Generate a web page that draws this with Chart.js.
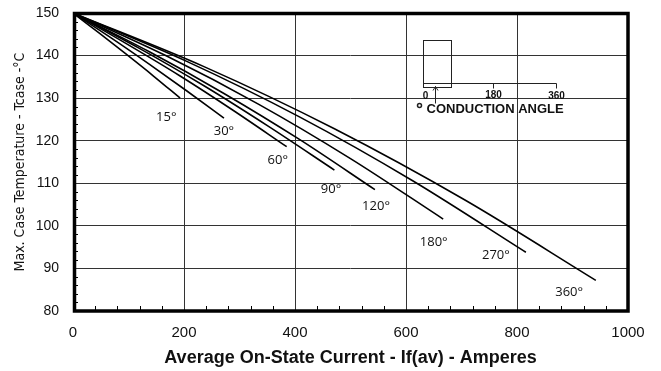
<!DOCTYPE html>
<html>
<head>
<meta charset="utf-8">
<script src="https://cdn.jsdelivr.net/npm/chart.js@4.4.1/dist/chart.umd.min.js"></script>
<style>
  html, body { margin: 0; padding: 0; background: #fff; }
  #wrap { width: 661px; height: 371px; }
</style>
</head>
<body>
<div id="wrap"><canvas id="chart" width="661" height="371"></canvas></div>
<script>
// conduction angle curves: case temperature vs average current
var angles = ['15°', '30°', '60°', '90°', '120°', '180°', '270°', '360°'];
var currents = [
    [0, 48, 97, 145, 193],
    [0, 68, 136, 204, 272],
    [0, 96, 193, 289, 385],
    [0, 118, 236, 353, 471],
    [0, 136, 272, 408, 544],
    [0, 167, 334, 500, 667],
    [0, 204, 408, 612, 816],
    [0, 236, 471, 707, 942]
];
var temps = [
    [150, 145.2, 140.2, 135.2, 130.0],
    [150, 144.2, 138.1, 131.8, 125.3],
    [150, 142.8, 135.2, 127.1, 118.6],
    [150, 141.8, 132.9, 123.3, 113.1],
    [150, 141.0, 131.1, 120.3, 108.5],
    [150, 140.0, 128.6, 115.8, 101.6],
    [150, 138.7, 125.6, 110.6, 93.8],
    [150, 137.4, 122.8, 106.0, 87.2]
];
var xTicks = [0, 200, 400, 600, 800, 1000];
var yTicks = [80, 90, 100, 110, 120, 130, 140, 150];

// where the angle labels sit (data units)
var labelPos = [
    [168, 125.6], [272, 122.1], [369, 115.5], [465, 108.7],
    [546, 104.5], [650, 96.2], [762, 93.0], [894, 84.3]
];

var datasets = angles.map(function(a, i) {
    return {
        label: a,
        data: currents[i].map(function(x, j) { return {x: x, y: temps[i][j]}; }),
        borderColor: '#000',
        borderWidth: 1.6,
        pointRadius: 0,
        fill: false,
        cubicInterpolationMode: 'monotone'
    };
});

var extras = {
    id: 'extras',
    afterDraw: function(chart) {
        var ctx = chart.ctx;
        var a = chart.chartArea;
        var xs = chart.scales.x, ys = chart.scales.y;
        ctx.save();

        // minor ticks
        ctx.strokeStyle = '#000';
        ctx.lineWidth = 1;
        ctx.beginPath();
        for (var v = 40; v < 1000; v += 40) {
            if (v % 200 === 0) continue;
            var px = Math.round(xs.getPixelForValue(v)) + 0.5;
            ctx.moveTo(px, a.bottom);
            ctx.lineTo(px, a.bottom - 5);
        }
        for (var t = 82; t < 150; t += 2) {
            if (t % 10 === 0) continue;
            var py = Math.round(ys.getPixelForValue(t)) + 0.5;
            ctx.moveTo(a.left, py);
            ctx.lineTo(a.left + 5, py);
        }
        ctx.stroke();

        // frame
        ctx.lineWidth = 3.5;
        ctx.strokeRect(a.left + 1.5, a.top + 0.5, a.right - a.left - 1.5, a.bottom - a.top - 0.5);

        // angle labels
        ctx.fillStyle = '#111';
        ctx.font = '13px "Open Sans", sans-serif';
        ctx.textAlign = 'center';
        ctx.textBaseline = 'middle';
        labelPos.forEach(function(p, i) {
            ctx.fillText(angles[i], xs.getPixelForValue(p[0]), ys.getPixelForValue(p[1]));
        });

        // conduction angle inset
        var ax = Math.round(xs.getPixelForValue(630)) + 0.5;
        var ay = Math.round(ys.getPixelForValue(133.5)) + 0.5;
        ctx.strokeStyle = '#222';
        ctx.lineWidth = 1;
        ctx.strokeRect(ax, ay - 43, 28, 47);
        ctx.beginPath();
        ctx.moveTo(ax, ay); ctx.lineTo(ax + 133, ay);
        ctx.moveTo(ax + 70, ay); ctx.lineTo(ax + 70, ay + 5);
        ctx.moveTo(ax + 133, ay); ctx.lineTo(ax + 133, ay + 5);
        ctx.moveTo(ax + 12, ay + 20); ctx.lineTo(ax + 12, ay + 3);
        ctx.moveTo(ax + 9.5, ay + 7); ctx.lineTo(ax + 12, ay + 3); ctx.lineTo(ax + 14.5, ay + 7);
        ctx.stroke();
        ctx.fillStyle = '#111';
        ctx.font = 'bold 10px "Liberation Sans", Arial, sans-serif';
        ctx.textAlign = 'center';
        ctx.fillText('0', ax + 2, ay + 13);
        ctx.fillText('180', ax + 70, ay + 12);
        ctx.fillText('360', ax + 133, ay + 13);
        ctx.lineWidth = 1.5;
        ctx.beginPath();
        ctx.arc(ax - 4, ay + 22, 2, 0, Math.PI * 2);
        ctx.stroke();
        ctx.font = 'bold 13px "Liberation Sans", Arial, sans-serif';
        ctx.textAlign = 'left';
        ctx.fillText('CONDUCTION ANGLE', ax + 3, ay + 26);

        ctx.restore();
    }
};

var ctx = document.getElementById('chart').getContext('2d');
window.chart = new Chart(ctx, {
    type: 'line',
    data: { datasets: datasets },
    options: {
        responsive: false,
        animation: false,
        layout: { padding: { left: 0, top: 13, right: 33, bottom: 0 } },
        plugins: { legend: { display: false }, tooltip: { enabled: false } },
        scales: {
            x: {
                type: 'linear',
                min: 0,
                max: 1000,
                afterFit: function(s) { s.height = 60; s.paddingLeft = 0; s.paddingRight = 0; },
                afterBuildTicks: function(s) { s.ticks = xTicks.map(function(v) { return {value: v}; }); },
                grid: { color: '#333', lineWidth: 1, drawTicks: false },
                border: { display: false },
                ticks: {
                    color: '#111', padding: 13, maxRotation: 0,
                    font: { family: '"Liberation Sans", Arial, sans-serif', size: 15 },
                    callback: function(v) { return String(v); }
                },
                title: {
                    display: true,
                    text: 'Average On-State Current - If(av) - Amperes',
                    color: '#111',
                    font: { family: '"Liberation Sans", Arial, sans-serif', size: 18, weight: 'bold' },
                    padding: { top: 0, bottom: 2 }
                }
            },
            y: {
                type: 'linear',
                min: 80,
                max: 150,
                afterFit: function(s) { s.width = 73; s.paddingTop = 0; s.paddingBottom = 0; },
                afterBuildTicks: function(s) { s.ticks = yTicks.map(function(v) { return {value: v}; }); },
                grid: { color: '#333', lineWidth: 1, drawTicks: false },
                border: { display: false },
                ticks: { color: '#111', padding: 14, font: { family: '"Liberation Sans", Arial, sans-serif', size: 14 } },
                title: {
                    display: true,
                    text: 'Max. Case Temperature - Tcase -°C',
                    color: '#111',
                    font: { family: '"Liberation Sans Narrow", "DejaVu Sans Condensed", sans-serif', size: 14 },
                    padding: { top: 12, bottom: 0 }
                }
            }
        }
    },
    plugins: [extras]
});
</script>
</body>
</html>
